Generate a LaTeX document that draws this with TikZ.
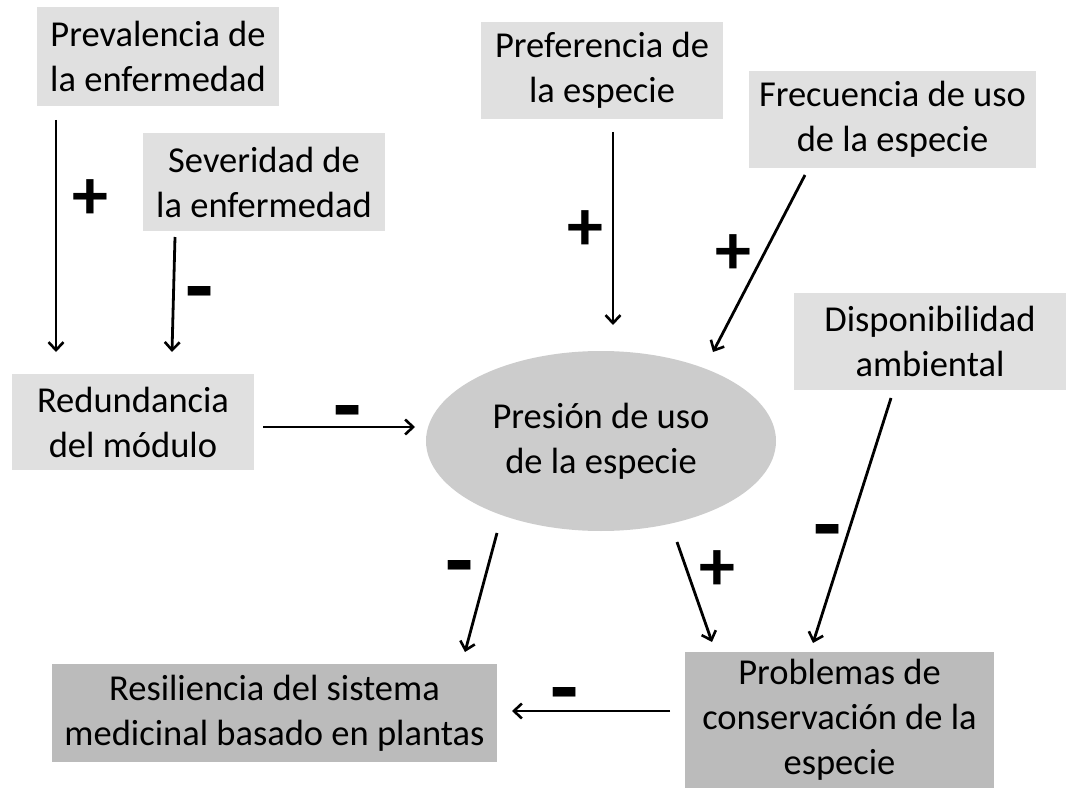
\documentclass[tikz,border=0pt]{standalone}
\usepackage{fontspec}
\setmainfont{Carlito}
\usetikzlibrary{arrows.meta,shapes.geometric}
\definecolor{lightbox}{HTML}{E0E0E0}
\definecolor{midgray}{HTML}{CCCCCC}
\definecolor{darkbox}{HTML}{BBBBBB}
\begin{document}
\begin{tikzpicture}[x=1pt,y=-1pt,
  txt/.style={align=center, inner sep=0pt, font=\fontsize{36.5}{45}\selectfont},
  lbox/.style={txt, fill=lightbox},
  dbox/.style={txt, fill=darkbox},
  arr/.style={line width=2.8pt, -{Straight Barb[length=8pt,width=15pt,line width=2.6pt]}},
  sgn/.style={inner sep=0pt, font=\fontsize{72}{72}\selectfont\bfseries},
  msgn/.style={inner sep=0pt, font=\fontsize{92}{92}\selectfont\bfseries}]
\useasboundingbox (0,0) rectangle (1069,789);

% boxes
\node[lbox, minimum width=242pt, minimum height=99pt] (prev) at (158,56.5) {Prevalencia de\\la enfermedad};
\node[lbox, minimum width=242pt, minimum height=98pt] (sev) at (264,182) {Severidad de\\la enfermedad};
\node[lbox, minimum width=242pt, minimum height=96pt] (red) at (133,422) {Redundancia\\del módulo};
\node[lbox, minimum width=242pt, minimum height=97pt] (pref) at (602,70.5) {Preferencia de\\la especie};
\node[lbox, minimum width=287pt, minimum height=97pt] (frec) at (892.5,119.5) {Frecuencia de uso\\de la especie};
\node[lbox, minimum width=272pt, minimum height=97pt] (disp) at (930,341.5) {Disponibilidad\\ambiental};
\node[txt, ellipse, fill=midgray, minimum width=350pt, minimum height=180pt] (pres) at (601,441) {Presión de uso\\de la especie};
\node[dbox, minimum width=445pt, minimum height=98pt] (resil) at (274.5,713) {Resiliencia del sistema\\medicinal basado en plantas};
\node[dbox, minimum width=309pt, minimum height=136pt] (prob) at (839.5,720) {Problemas de\\conservación de la\\especie};

% connector end points
\coordinate (prevS) at (56,120);   \coordinate (redN1) at (56,352);
\coordinate (sevS) at (175,237);   \coordinate (redN2) at (172,352);
\coordinate (redE) at (263,427);   \coordinate (presW) at (415,427);
\coordinate (prefS) at (613,132);  \coordinate (presN1) at (613,325);
\coordinate (frecS) at (805,175);  \coordinate (presN2) at (713,352);
\coordinate (dispS) at (891,398);  \coordinate (probN2) at (813,643);
\coordinate (presS1) at (497,533); \coordinate (resilN) at (465,652);
\coordinate (presS2) at (677,542); \coordinate (probN1) at (712,642);
\coordinate (probW) at (670,711);  \coordinate (resilE) at (512,711);

% connectors
\draw[arr] (prevS) -- (redN1);
\draw[arr] (sevS) -- (redN2);
\draw[arr] (redE) -- (presW);
\draw[arr] (prefS) -- (presN1);
\draw[arr] (frecS) -- (presN2);
\draw[arr] (dispS) -- (probN2);
\draw[arr] (presS1) -- (resilN);
\draw[arr] (presS2) -- (probN1);
\draw[arr] (probW) -- (resilE);

% signs
\node[sgn] (s1) at (90,200) {+};
\node[msgn] (s2) at (200,302) {-};
\node[msgn] (s3) at (348,421) {-};
\node[sgn] (s4) at (585,231) {+};
\node[sgn] (s5) at (733,255) {+};
\node[msgn] (s6) at (828,540) {-};
\node[sgn] (s7) at (717,571) {+};
\node[msgn] (s8) at (460,576) {-};
\node[msgn] (s9) at (565,703) {-};
\end{tikzpicture}
\end{document}
